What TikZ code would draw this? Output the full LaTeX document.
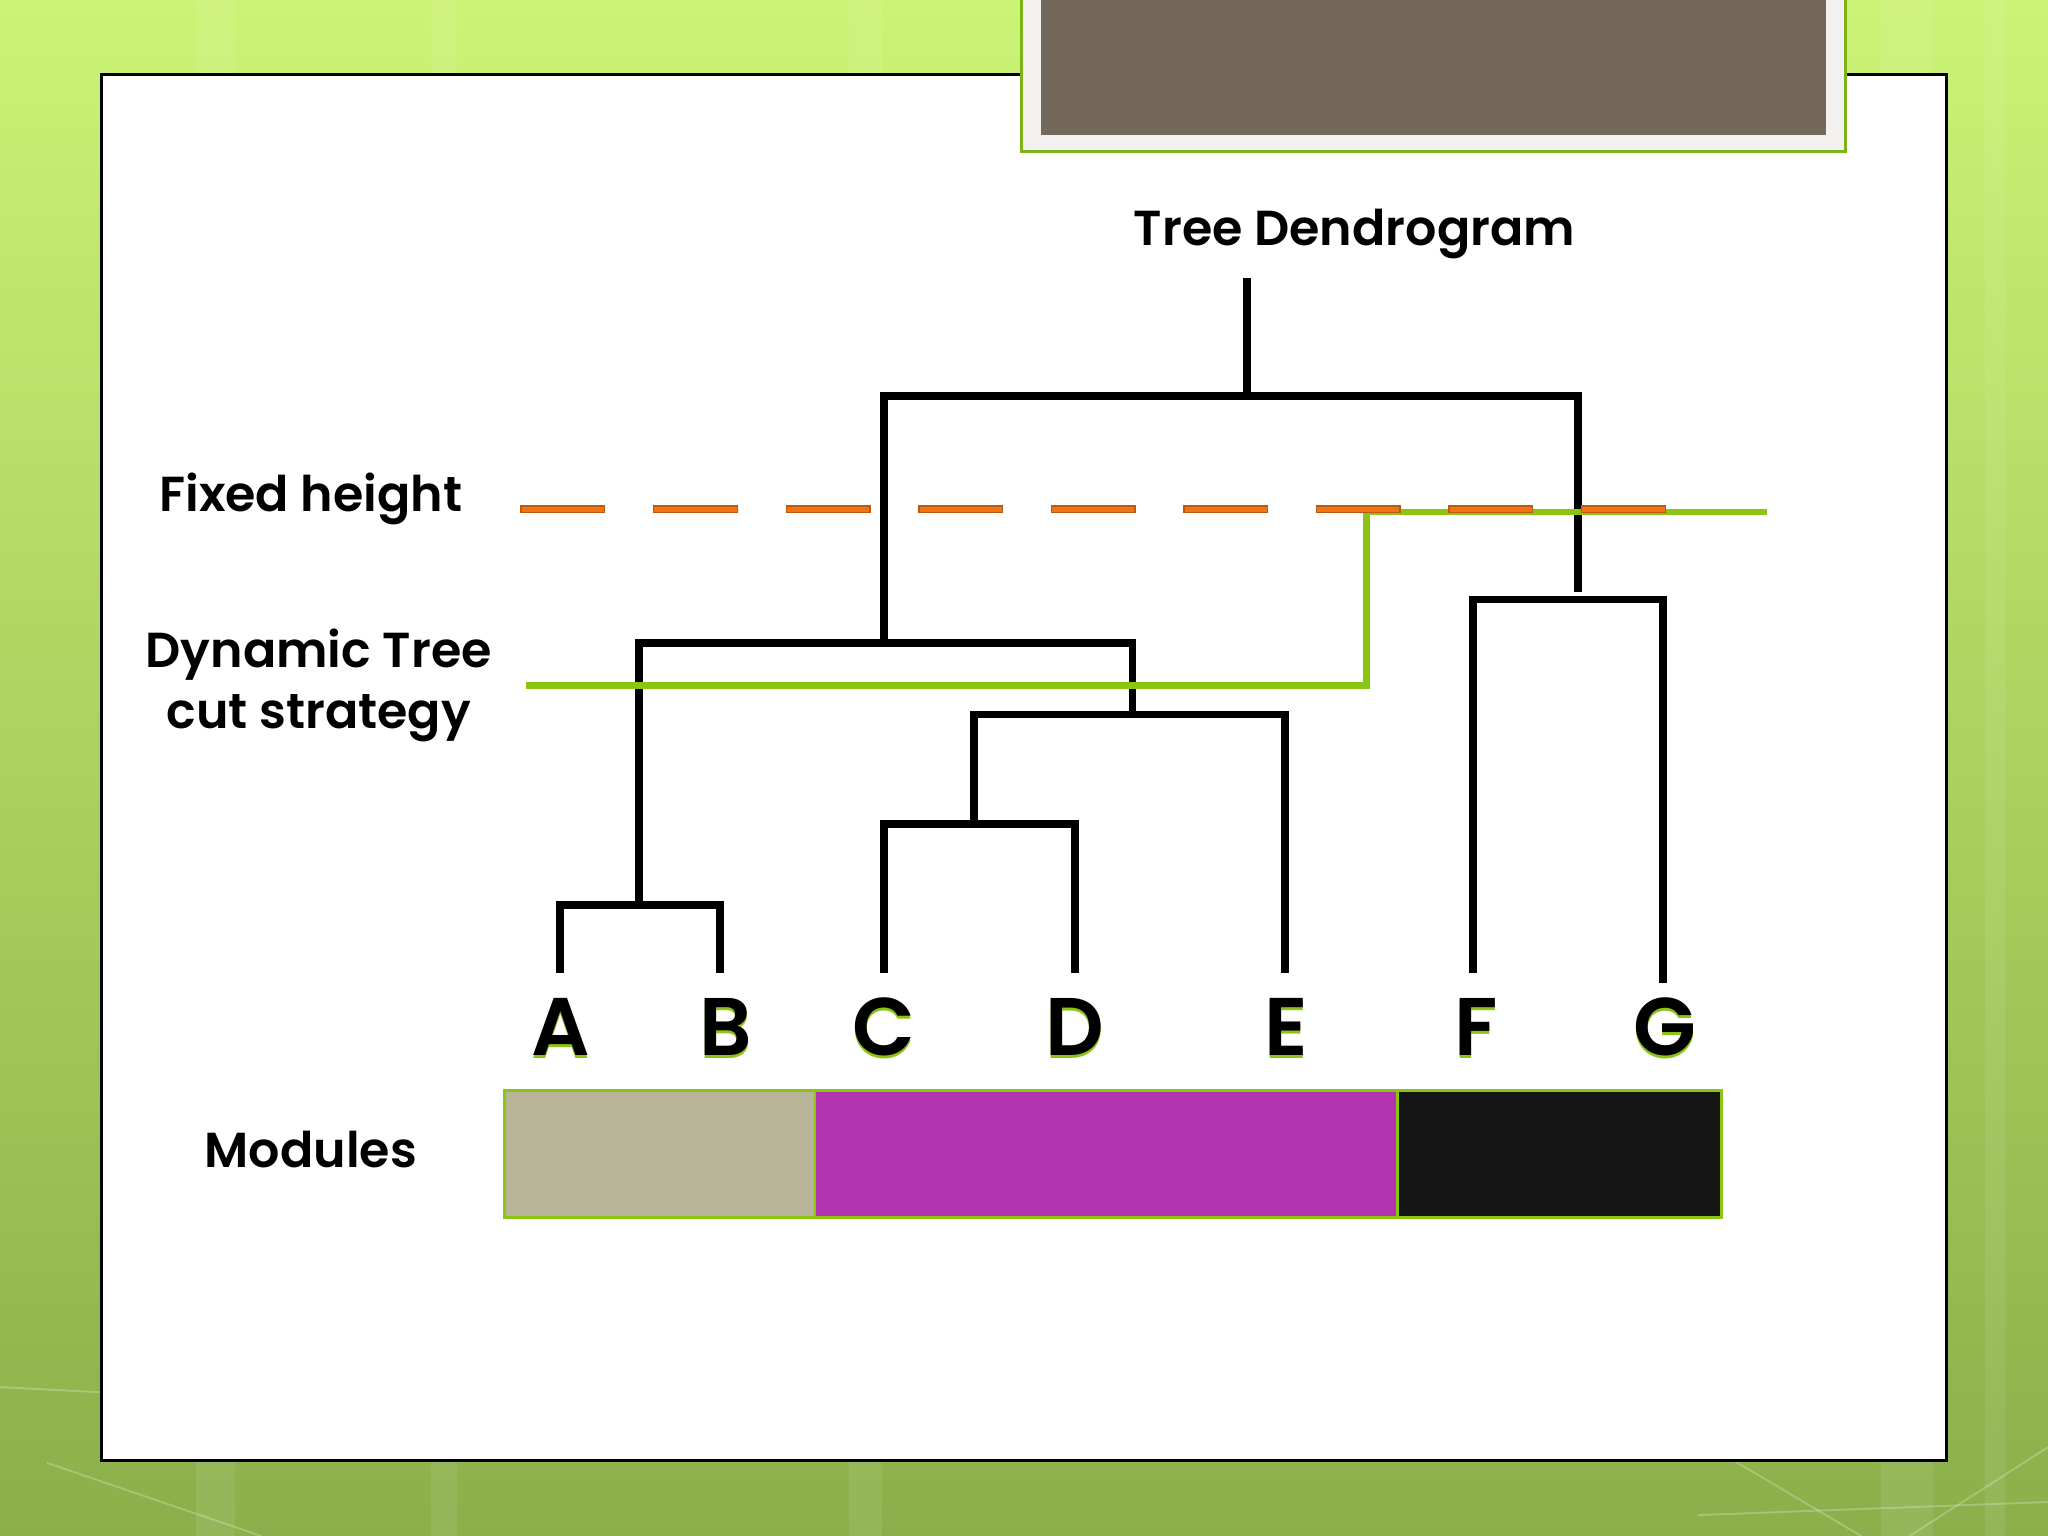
\documentclass[tikz,border=0pt]{standalone}
\usepackage{fontspec}
\setmainfont{Poppins}[BoldFont={Poppins SemiBold}]
\usetikzlibrary{positioning}
\definecolor{bgtop}{HTML}{CBF374}
\definecolor{bgbot}{HTML}{8BAF4A}
\definecolor{lime}{HTML}{8CC414}
\definecolor{cutorange}{HTML}{F07414}
\definecolor{cutedge}{HTML}{B85A10}
\definecolor{brownbox}{HTML}{73685A}
\definecolor{framegrey}{HTML}{F3F1F0}
\definecolor{frameline}{HTML}{7EB21A}
\definecolor{modtan}{HTML}{B8B498}
\definecolor{modpink}{HTML}{B233B0}
\definecolor{modblack}{HTML}{151515}
\tikzset{
  x = 0.01cm,
  y = -0.01cm,
  branch/.style = {line width=1.7pt, line join=miter, line cap=rect},
  cutline/.style = {lime, line width=1.5pt},
  fixeddash/.style = {fill=cutorange, draw=cutedge, line width=0.3pt},
  label/.style = {font=\fontsize{10.7}{13}\selectfont\bfseries, anchor=base, inner sep=0pt},
  leaf/.style = {font=\fontsize{17.8}{20}\selectfont\bfseries, anchor=base, inner sep=0pt},
  module/.style = {draw=lime, line width=0.6pt},
}

\begin{document}
\begin{tikzpicture}
  \useasboundingbox (0,0) rectangle (1568,1176);
  \shade[top color=bgtop, bottom color=bgbot] (0,0) rectangle (1568,1176);
  \foreach \xa/\wa in {150/30, 330/20, 650/25, 1440/40, 1520/15}
    \fill[white, opacity=0.08] (\xa,0) rectangle ++(\wa,1176);
  \draw[white, opacity=0.25, line width=0.4pt] (0,1062) -- (78,1066);
  \draw[white, opacity=0.25, line width=0.4pt] (1327,1118) -- (1425,1176);
  \draw[white, opacity=0.25, line width=0.4pt] (1462,1176) -- (1568,1108);
  \draw[white, opacity=0.25, line width=0.4pt] (1300,1160) -- (1568,1150);
  \draw[white, opacity=0.25, line width=0.4pt] (36,1120) -- (200,1176);

  % panel and title box
  \draw[fill=white, line width=0.6pt] (78,57) rectangle (1490,1118);
  \draw[fill=framegrey, draw=frameline, line width=0.8pt] (782,-5) rectangle (1413,116);
  \fill[brownbox] (797,-5) rectangle (1398,103);

  \node[label] (title) at (1037,188) {Tree Dendrogram};
  \node[label] (fixed) at (238,392) {Fixed height};
  \node[label] (dyn1) at (244,511) {Dynamic Tree};
  \node[label] (dyn2) at (244,558) {cut strategy};
  \node[label] (modules) at (238,894) {Modules};

  % leaves and merges
  \coordinate (A) at (429,742);
  \coordinate (B) at (551,742);
  \coordinate (C) at (677,742);
  \coordinate (D) at (823,742);
  \coordinate (E) at (984,742);
  \coordinate (F) at (1128,742);
  \coordinate (G) at (1273,750);
  \coordinate (ab) at (489,693);
  \coordinate (cd) at (746,631);
  \coordinate (cde) at (867,547);
  \coordinate (abcde) at (677,492);
  \coordinate (fg) at (1200,459);
  \coordinate (fgstem) at (1208,450);
  \coordinate (root) at (955,303);
  \coordinate (rootstem) at (955,216);

  \draw[branch] (A) |- (ab) -| (B);
  \draw[branch] (C) |- (cd) -| (D);
  \draw[branch] (cd) |- (cde) -| (E);
  \draw[branch] (ab) |- (abcde) -| (cde);
  \draw[branch] (F) |- (fg) -| (G);
  \draw[branch] (abcde) |- (root) -| (fgstem);
  \draw[branch] (root) -- (rootstem);

  % cut lines
  \coordinate (cutstart) at (403,525);
  \coordinate (cutstep) at (1046,525);
  \coordinate (cutend) at (1353,392);
  \draw[cutline] (cutstart) -- (cutstep) |- (cutend);
  \foreach \i in {0,...,8}
    \draw[fixeddash] (399+\i*101.5,387.5) rectangle ++(64,5);

  \foreach \name/\xx in {A/429, B/556, C/677, D/823, E/985, F/1130, G/1275} {
    \node[leaf, text=lime] at (\xx,810.5) {\name};
    \node[leaf] (lab\name) at (\xx,808) {\name};
  }

  \draw[module, fill=modtan] (386,835) rectangle (624,932);
  \draw[module, fill=modpink] (624,835) rectangle (1070,932);
  \draw[module, fill=modblack] (1070,835) rectangle (1318,932);
\end{tikzpicture}
\end{document}
